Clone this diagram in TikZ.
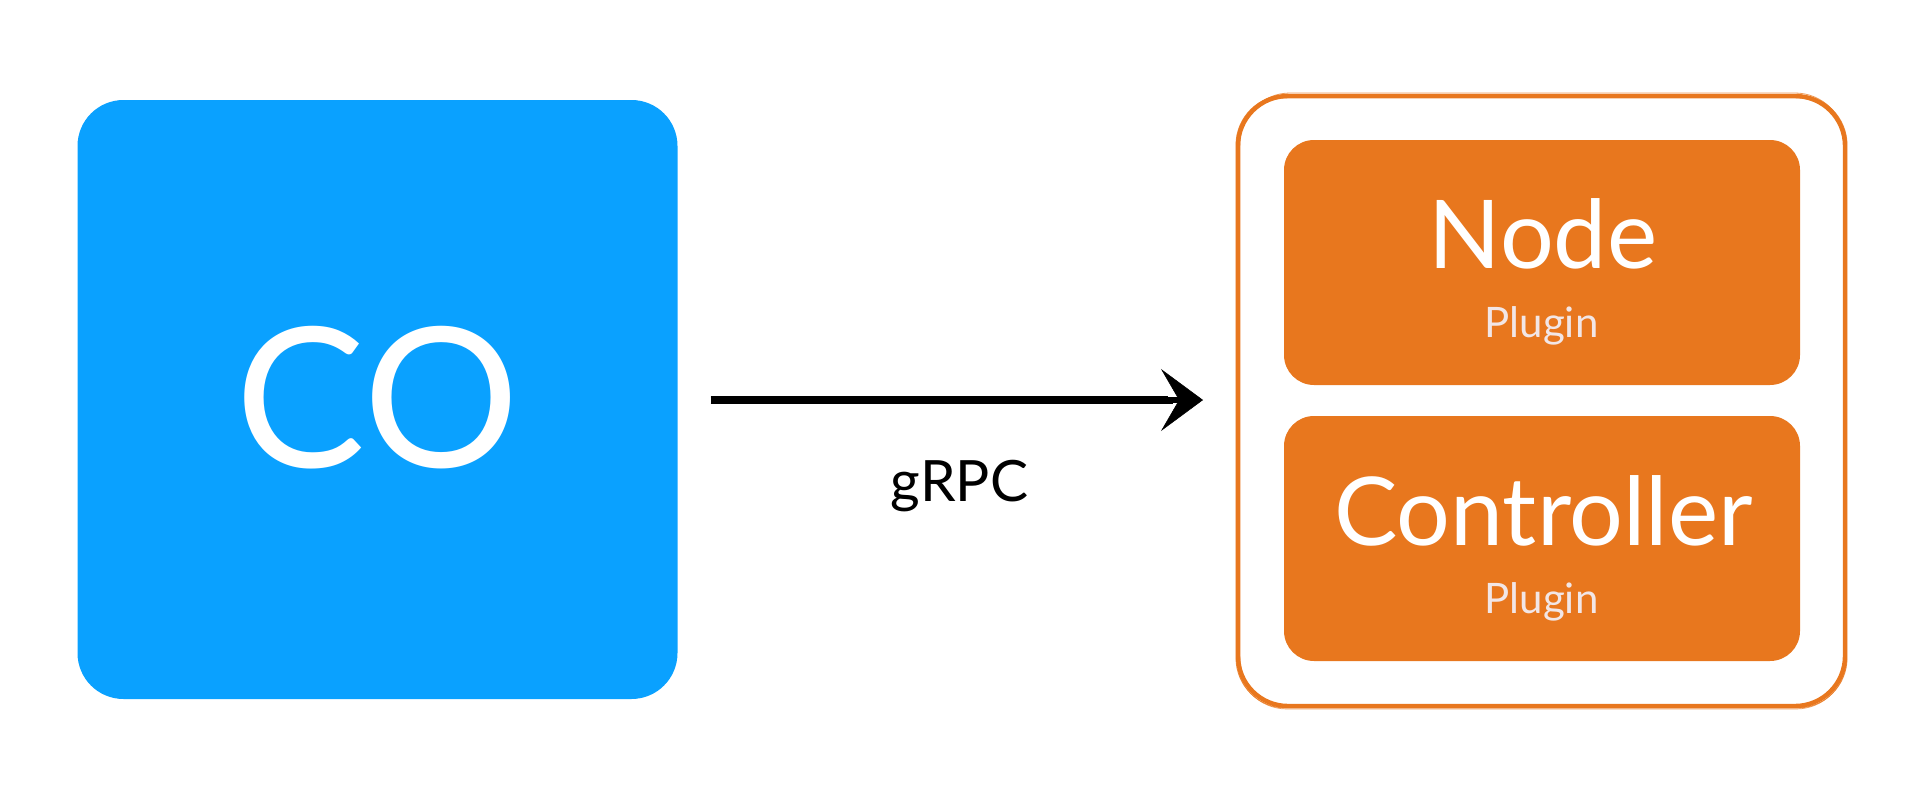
\documentclass[tikz,border=0pt]{standalone}
\usepackage{fontspec}
\setmainfont{Lato}
\usetikzlibrary{arrows.meta}
\definecolor{coblue}{RGB}{10,161,255}
\definecolor{plorange}{RGB}{232,119,30}
\definecolor{plgray}{RGB}{242,230,230}
\begin{document}
\begin{tikzpicture}[x=1pt,y=-1pt,
  bluebox/.style={fill=coblue, rounded corners=46pt, minimum width=600pt, minimum height=599pt, inner sep=0pt, outer sep=0pt},
  plugbox/.style={fill=plorange, rounded corners=30pt, minimum width=516pt, minimum height=245pt, inner sep=0pt, outer sep=0pt},
  hostbox/.style={draw=plorange, line width=4.4pt, rounded corners=50pt, minimum width=607pt, minimum height=610pt, inner sep=0pt, outer sep=0pt},
  sketch/.style={draw=plorange, rounded corners=50pt},
  bigtxt/.style={anchor=base, text=white, font=\fontsize{95}{100}\selectfont},
  smalltxt/.style={anchor=base, text=plgray, font=\fontsize{42}{46}\selectfont},
  arrowline/.style={line width=6.5pt, draw=black}
]
\useasboundingbox (0,0) rectangle (1920,800);
% left box
\node[bluebox] (co) at (377.5,399.5) {};
\node[anchor=base, text=white, font=\fontsize{195}{200}\selectfont] (cotext) at (377.5,467) {CO};
% right container with sketchy border
\node[hostbox] (host) at (1541.5,401) {};
\draw[sketch, line width=0.9pt, opacity=0.85] (1236,95) rectangle (1847,708);
\draw[sketch, line width=0.8pt, opacity=0.75] (1240,93) rectangle (1845,707);
\draw[sketch, line width=0.7pt, opacity=0.7] (1237,98) rectangle (1846,709);
% inner boxes
\node[plugbox] (nodebox) at (1542,262.5) {};
\node[plugbox] (ctrlbox) at (1542,538.5) {};
\node[bigtxt] (nodetxt) at (1543,268) {Node};
\node[smalltxt] (nodeplug) at (1541.5,337) {Plugin};
\node[bigtxt] (ctrltxt) at (1543.5,545) {Controller};
\node[smalltxt] (ctrlplug) at (1541.5,613) {Plugin};
% arrow
\draw[arrowline, -{Stealth[length=42pt,width=62pt,inset=18pt,line width=0.5pt]}, shorten <=33pt, shorten >=35pt]
  (co.east |- 0,400) -- (host.west |- 0,400);
\draw[line width=1.6pt, shorten <=33pt, shorten >=70pt, transform canvas={yshift=3.2pt}]
  (co.east |- 0,400) -- (host.west |- 0,400);
\draw[line width=1.3pt, shorten <=33pt, shorten >=65pt, transform canvas={yshift=-3.2pt}]
  (co.east |- 0,400) -- (host.west |- 0,400);
\node[anchor=base, text=black, font=\fontsize{57}{62}\selectfont] (grpc) at (959.5,501) {gRPC};
\end{tikzpicture}
\end{document}
